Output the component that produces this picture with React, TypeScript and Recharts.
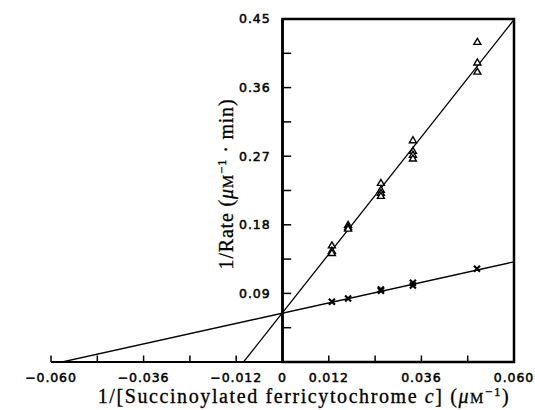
import React from 'react';
import { ScatterChart, Scatter, XAxis, YAxis, ReferenceLine, ReferenceArea } from 'recharts';

// x = 1/[succinoylated ferricytochrome c], y = 1/rate
const triangleX = [0.0128, 0.0128, 0.0128, 0.017, 0.017, 0.017, 0.0255, 0.0255, 0.0255, 0.0255, 0.0338, 0.0338, 0.0338, 0.0338, 0.0505, 0.0505, 0.0505];
const triangleY = [0.153, 0.146, 0.143, 0.18, 0.177, 0.175, 0.235, 0.226, 0.222, 0.218, 0.291, 0.277, 0.272, 0.267, 0.42, 0.393, 0.381];
const crossX = [0.0128, 0.017, 0.0255, 0.0255, 0.0338, 0.0338, 0.0504];
const crossY = [0.079, 0.0833, 0.0935, 0.095, 0.1039, 0.1004, 0.1223];

// fitted lines, end points
const fitTriangle = [{ x: -0.0101, y: 0 }, { x: 0.06, y: 0.449 }];
const fitCross = [{ x: -0.0571, y: 0 }, { x: 0.06, y: 0.1314 }];

const xLabelTicks = [-0.06, -0.036, -0.012, 0, 0.012, 0.036, 0.06];
const xMarkTicks = [-0.06, -0.048, -0.036, -0.024, -0.012, 0.012, 0.024, 0.036, 0.048];
const yMarkTicks = [0.045, 0.09, 0.135, 0.18, 0.225, 0.27, 0.315, 0.36, 0.405];
const yLabelTicks = [0.09, 0.18, 0.27, 0.36, 0.45];

const triangles = triangleX.map((x, i) => ({ x, y: triangleY[i] }));
const crosses = crossX.map((x, i) => ({ x, y: crossY[i] }));

const tickFont = { fontFamily: 'DejaVu Sans', fontSize: 12.5, letterSpacing: 0.9, fill: '#000', stroke: '#000', strokeWidth: 0.5 };
const serif = 'Liberation Serif';

const fmtX = (v: number) => (v === 0 ? '0' : (v < 0 ? '\u2212' : '') + Math.abs(v).toFixed(3));

const Triangle = (props: any) => {
  const { cx, cy } = props;
  return <path d={`M${cx},${cy - 3.5}L${cx + 3.5},${cy + 2.5}L${cx - 3.5},${cy + 2.5}Z`} fill="#fff" stroke="#000" strokeWidth={1.4} />;
};

const Cross = (props: any) => {
  const { cx, cy } = props;
  return <path d={`M${cx - 3},${cy - 3}L${cx + 3},${cy + 3}M${cx + 3},${cy - 3}L${cx - 3},${cy + 3}`} stroke="#000" strokeWidth={2.2} />;
};

const NoDot = () => null;

export default function App() {
  return (
    <div style={{ position: 'absolute', left: 0, top: 0, width: 535, height: 410, overflow: 'hidden' }}>
      <ScatterChart width={535} height={410} margin={{ top: 19, right: 21, left: 51, bottom: 0 }}>
        <XAxis
          type="number"
          dataKey="x"
          domain={[-0.06, 0.06]}
          ticks={xLabelTicks}
          interval={0}
          tickFormatter={fmtX}
          tickLine={false}
          tickMargin={5}
          tick={tickFont}
          axisLine={{ stroke: '#000', strokeWidth: 2 }}
          height={48}
          allowDataOverflow
        />
        <YAxis type="number" dataKey="y" domain={[0, 0.45]} hide allowDataOverflow />

        <ReferenceArea x1={0} x2={0.06} y1={0} y2={0.45} fill="none" stroke="#000" strokeWidth={2.5} />
        <ReferenceLine x={0} stroke="#000" strokeWidth={2.5} />

        {xMarkTicks.map((v) => (
          <ReferenceLine key={`xt-${v}`} segment={[{ x: v, y: 0 }, { x: v, y: 0.0085 }]} stroke="#000" strokeWidth={1.5} />
        ))}
        {yMarkTicks.map((v) => (
          <ReferenceLine key={`yt-${v}`} segment={[{ x: 0, y: v }, { x: 0.00225, y: v }]} stroke="#000" strokeWidth={1.5} />
        ))}
        {yLabelTicks.map((v) => (
          <ReferenceLine
            key={`yl-${v}`}
            segment={[{ x: 0, y: v }, { x: 0, y: v }]}
            stroke="none"
            label={{ value: v.toFixed(2), position: 'left', offset: 12, ...tickFont }}
          />
        ))}

        <Scatter data={fitTriangle} line={{ stroke: '#000', strokeWidth: 1.3 }} shape={NoDot} isAnimationActive={false} />
        <Scatter data={fitCross} line={{ stroke: '#000', strokeWidth: 1.3 }} shape={NoDot} isAnimationActive={false} />
        <Scatter data={triangles} shape={Triangle} isAnimationActive={false} />
        <Scatter data={crosses} shape={Cross} isAnimationActive={false} />

        <text x={304} y={403} textAnchor="middle" fontFamily={serif} fontSize={20} letterSpacing={1.6} fill="#000" stroke="#000" strokeWidth={0.3}>
          1/[Succinoylated ferricytochrome <tspan fontStyle="italic">c</tspan>] (<tspan fontStyle="italic">μ</tspan>
          <tspan fontSize={15}>M</tspan>
          <tspan fontSize={13} baselineShift="super">−1</tspan>)
        </text>
        <text x={233} y={184} transform="rotate(-90, 233, 184)" textAnchor="middle" fontFamily={serif} fontSize={20} letterSpacing={0.8} fill="#000" stroke="#000" strokeWidth={0.3}>
          1/Rate (<tspan fontStyle="italic">μ</tspan>
          <tspan fontSize={15}>M</tspan>
          <tspan fontSize={13} baselineShift="super">−1</tspan> · min)
        </text>
      </ScatterChart>
    </div>
  );
}
